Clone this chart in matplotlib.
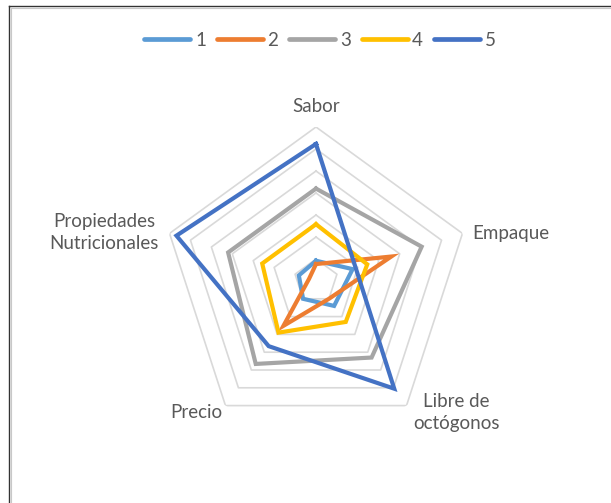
import numpy as np
import matplotlib
matplotlib.use("Agg")
import matplotlib.pyplot as plt
from matplotlib.lines import Line2D

categories = ["Sabor", "Empaque", "Libre de\noctógonos", "Precio", "Propiedades\nNutricionales"]
series_names = ["1", "2", "3", "4", "5"]
s1 = [0.92, 1.75, 1.4, 1.0, 0.82]
s2 = [0.77, 3.6, 1.0, 2.52, 0.33]
s3 = [4.2, 5.05, 4.3, 4.66, 4.2]
s4 = [2.58, 2.45, 2.3, 2.9, 2.57]
s5 = [6.23, 1.9, 6.05, 3.66, 6.67]
series = [s1, s2, s3, s4, s5]
colors = ["#5B9BD5", "#ED7D31", "#A5A5A5", "#FFC000", "#4472C4"]
rmax = 7
grid_levels = [1, 2, 3, 4, 5, 6, 7]

plt.rcParams['font.family'] = ['Lato', 'DejaVu Sans']
W, H = 611, 503
fig = plt.figure(figsize=(W / 100, H / 100), dpi=100)

cx, cy, R = 316, 281, 154
ax = fig.add_axes([(cx - R) / W, (H - cy - R) / H, 2 * R / W, 2 * R / H], projection='polar')
ax.set_theta_offset(np.pi / 2)
ax.set_theta_direction(-1)
ax.set_ylim(0, rmax)
ax.grid(False)
ax.spines['polar'].set_visible(False)
ax.set_xticks([])
ax.set_yticks([])
ax.patch.set_alpha(0)

n = len(categories)
theta = np.linspace(0, 2 * np.pi, n, endpoint=False)
th_closed = np.append(theta, theta[0])

for lv in grid_levels:
    ax.plot(th_closed, [lv] * (n + 1), color="#D9D9D9", lw=1.2, zorder=1)

for vals, c in zip(series, colors):
    v = np.append(vals, vals[0])
    ax.plot(th_closed, v, color=c, lw=3.0, zorder=3, solid_joinstyle='miter', clip_on=False)

label_color = "#595959"
fs = 13.5
px = 0.72  # points per pixel
label_specs = [
    ((0, 20), 'center', 'center'),
    ((10, 0), 'left', 'center'),
    ((50, -7), 'center', 'center'),
    ((-3, -7), 'right', 'center'),
    ((-11, 1), 'right', 'center'),
]
for th, lab, ((dx, dy), ha, va) in zip(theta, categories, label_specs):
    ax.annotate(lab, xy=(th, rmax), xytext=(dx * px, dy * px), textcoords='offset points',
                ha=ha, va=va, color=label_color, fontsize=fs, multialignment='center',
                linespacing=1.3, annotation_clip=False)

handles = [Line2D([0], [0], color=c, lw=3.4, solid_capstyle='round') for c in colors]
leg = fig.legend(handles, series_names, loc='center', bbox_to_anchor=(320 / W, 1 - 40 / H),
                 ncol=5, frameon=False, handlelength=2.45, handletextpad=0.25, columnspacing=0.58,
                 fontsize=13.5)
for t in leg.get_texts():
    t.set_color(label_color)

fig.add_artist(Line2D([9 / W, 1], [1 - 6 / H, 1 - 6 / H], transform=fig.transFigure, color="#333333", lw=1.0))
fig.add_artist(Line2D([9 / W, 9 / W], [0, 1 - 6 / H], transform=fig.transFigure, color="#333333", lw=1.0))
fig.add_artist(Line2D([10.5 / W, 1], [1 - 7.5 / H, 1 - 7.5 / H], transform=fig.transFigure, color="#C8C8C8", lw=0.8))
fig.add_artist(Line2D([10.5 / W, 10.5 / W], [0, 1 - 7.5 / H], transform=fig.transFigure, color="#C8C8C8", lw=0.8))

fig.savefig("out.png", dpi=100, facecolor="white")
